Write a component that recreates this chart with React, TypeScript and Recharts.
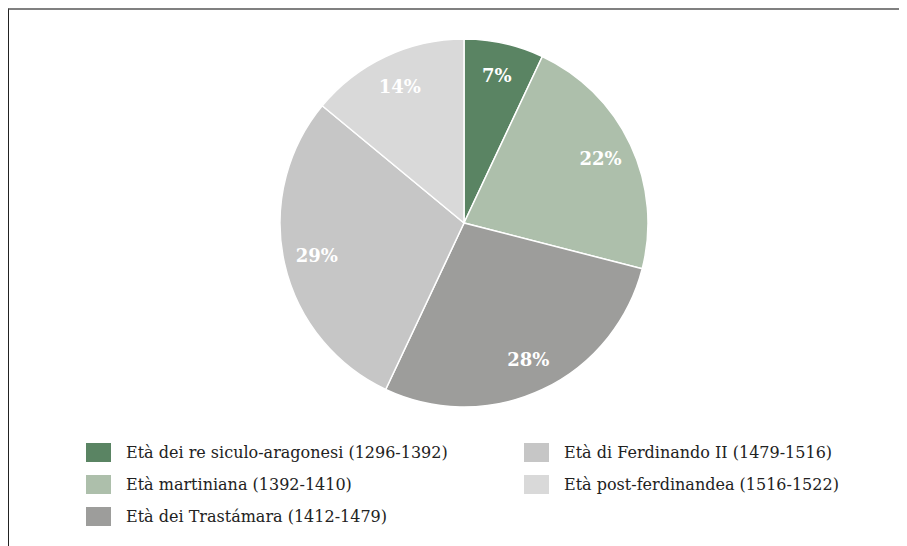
import { PieChart, Pie, Cell, Legend } from "recharts";

const periods = [
  "Età dei re siculo-aragonesi (1296-1392)",
  "Età martiniana (1392-1410)",
  "Età dei Trastámara (1412-1479)",
  "Età di Ferdinando II (1479-1516)",
  "Età post-ferdinandea (1516-1522)",
];
const shares = [7, 22, 28, 29, 14];
const COLORS = ["#5a8463", "#adbfab", "#9d9d9b", "#c6c6c6", "#d9d9d9"];

const data = periods.map((name, i) => ({ name, value: shares[i] }));

const FONT = "'DejaVu Serif', Georgia, serif";
const RAD = Math.PI / 180;

const renderLabel = (props: any) => {
  const { cx, cy, midAngle, outerRadius, value } = props;
  const r = outerRadius * 0.82;
  const x = cx + r * Math.cos(-midAngle * RAD);
  const y = cy + r * Math.sin(-midAngle * RAD);
  return (
    <text x={x} y={y} fill="#fff" textAnchor="middle" dominantBaseline="central" fontFamily={FONT} fontWeight="bold" fontSize={18}>
      {`${value}%`}
    </text>
  );
};

// legend keeps data order (recharts sorts payload by default)
const renderLegend = () => {
  const cols = [data.slice(0, 3), data.slice(3)];
  return (
    <div style={{ display: "flex", fontFamily: FONT, fontSize: 16, color: "#222", whiteSpace: "nowrap" }}>
      {cols.map((col, ci) => (
        <div key={ci} style={{ marginLeft: 77, width: 361 }}>
          {col.map((it) => (
            <div key={it.name} style={{ display: "flex", alignItems: "center", height: 32 }}>
              <span style={{ display: "inline-block", flex: "none", width: 25, height: 19, background: COLORS[periods.indexOf(it.name)], marginRight: 15 }} />
              <span>{it.name}</span>
            </div>
          ))}
        </div>
      ))}
    </div>
  );
};

export default function App() {
  return (
    <div style={{ width: 898, height: 536, borderTop: "2px solid #808080", borderLeft: "1px solid #222", background: "#fff" }}>
      <PieChart width={898} height={536}>
        <Pie
          data={data}
          dataKey="value"
          nameKey="name"
          cx={450}
          cy={208}
          outerRadius={184}
          startAngle={90}
          endAngle={-270}
          stroke="#fff"
          strokeWidth={1.5}
          label={renderLabel}
          labelLine={false}
          isAnimationActive={false}
        >
          {data.map((_, i) => (
            <Cell key={i} fill={COLORS[i]} />
          ))}
        </Pie>
        <Legend content={renderLegend} wrapperStyle={{ left: 0, top: 426, width: 898 }} />
      </PieChart>
    </div>
  );
}
